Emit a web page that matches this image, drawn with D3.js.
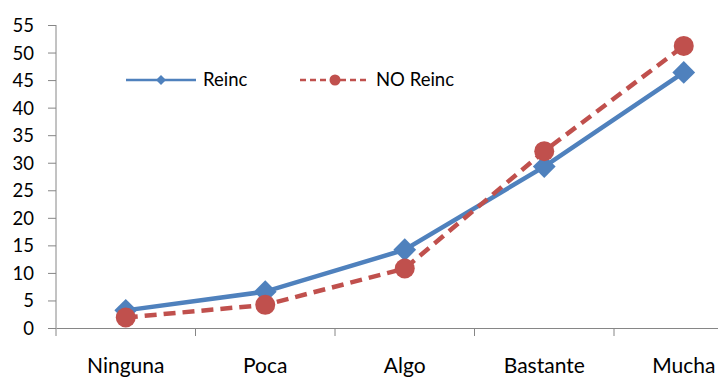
<!DOCTYPE html>
<html><head><meta charset="utf-8">
<script src="https://cdn.jsdelivr.net/npm/d3@7"></script>
<style>body{margin:0;background:#fff}svg{display:block}text{font-family:Lato,"Open Sans",sans-serif;fill:#000}</style>
</head><body><svg id="c" width="718" height="378"></svg>
<script>
const categories = ["Ninguna","Poca","Algo","Bastante","Mucha"];
const reinc = [3.2, 6.6, 14.2, 29.3, 46.4];
const noReinc = [1.9, 4.2, 10.8, 32.1, 51.2];
const yTicks = [0,5,10,15,20,25,30,35,40,45,50,55];
const seriesNames = ["Reinc","NO Reinc"];

const svg = d3.select("#c");
const x = d3.scaleBand().domain(categories).range([56, 753.5]);
const y = d3.scaleLinear().domain([0,55]).range([328, 25]);
const gray = "#868686", blue = "#4F81BD", red = "#C0504D";

// y axis
const ya = svg.append("g").attr("transform","translate(56,0)")
  .call(d3.axisLeft(y).tickValues(yTicks).tickSize(8).tickPadding(14));
ya.select(".domain").attr("stroke",gray).attr("d","M0,25V328");
ya.selectAll(".tick line").attr("stroke",gray);
ya.selectAll(".tick text").style("font-size","18.5px").attr("dy","0.35em");

// x axis
const xa = svg.append("g").attr("transform","translate(0,328)")
  .call(d3.axisBottom(x).tickSize(0).tickPadding(29));
xa.select(".domain").attr("stroke",gray);
xa.selectAll(".tick text").style("font-size","21px").attr("dy","0.75em");
// boundary ticks
svg.append("g").selectAll("line").data(categories.slice(1)).join("line")
  .attr("x1",d=>x(d)).attr("x2",d=>x(d)).attr("y1",328).attr("y2",336).attr("stroke",gray);
svg.append("line").attr("x1",56).attr("x2",56).attr("y1",328).attr("y2",336).attr("stroke",gray);

const cx = d => x(d) + x.bandwidth()/2;
const line = d3.line().x((d,i)=>cx(categories[i])).y(d=>y(d));

// Reinc
svg.append("path").datum(reinc).attr("d",line).attr("fill","none").attr("stroke",blue).attr("stroke-width",4.5);
svg.append("g").selectAll("path").data(reinc).join("path")
  .attr("d",d3.symbol(d3.symbolSquare,260))
  .attr("transform",(d,i)=>`translate(${cx(categories[i])},${y(d)}) rotate(45)`).attr("fill",blue);

// NO Reinc
svg.append("path").datum(noReinc).attr("d",line).attr("fill","none").attr("stroke",red).attr("stroke-width",4.5).attr("stroke-dasharray","12,7");
svg.append("g").selectAll("circle").data(noReinc).join("circle")
  .attr("cx",(d,i)=>cx(categories[i])).attr("cy",d=>y(d)).attr("r",10).attr("fill",red);

// legend
const lg = svg.append("g");
lg.append("line").attr("x1",126).attr("x2",196).attr("y1",80).attr("y2",80).attr("stroke",blue).attr("stroke-width",2.5);
lg.append("path").attr("d",d3.symbol(d3.symbolSquare,50)).attr("transform","translate(161,80) rotate(45)").attr("fill",blue);
lg.append("text").attr("x",203).attr("y",80).attr("dy","0.35em").style("font-size","18.5px").text(seriesNames[0]);
lg.append("line").attr("x1",300).attr("x2",369).attr("y1",80).attr("y2",80).attr("stroke",red).attr("stroke-width",2.5).attr("stroke-dasharray","6,4");
lg.append("circle").attr("cx",335).attr("cy",80).attr("r",5.5).attr("fill",red);
lg.append("text").attr("x",376).attr("y",80).attr("dy","0.35em").style("font-size","18.5px").text(seriesNames[1]);
</script></body></html>
